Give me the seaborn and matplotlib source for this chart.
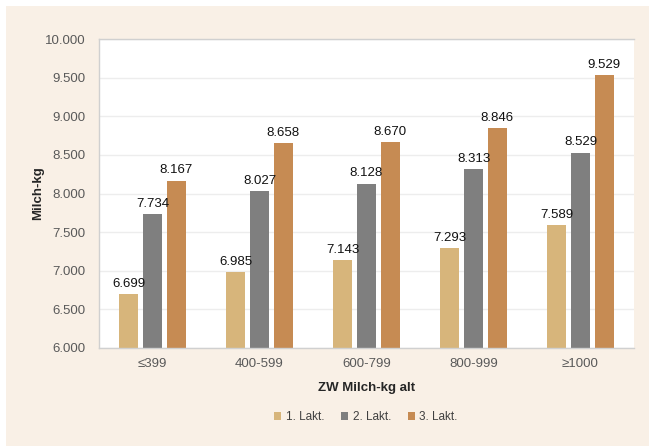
import matplotlib
matplotlib.use("Agg")
import matplotlib.pyplot as plt
import matplotlib.patches as mpatches
from matplotlib.ticker import FuncFormatter
import seaborn as sns
import pandas as pd

# Data
categories = ["≤399", "400-599", "600-799", "800-999", "≥1000"]
series_names = ["1. Lakt.", "2. Lakt.", "3. Lakt."]
lakt1 = [6699, 6985, 7143, 7293, 7589]
lakt2 = [7734, 8027, 8128, 8313, 8529]
lakt3 = [8167, 8658, 8670, 8846, 9529]
y_ticks = [6000, 6500, 7000, 7500, 8000, 8500, 9000, 9500, 10000]

colors = ["#D7B57B", "#7F7F7F", "#C68B53"]
cream = "#F9F0E6"

df = pd.DataFrame({
    "ZW": categories * 3,
    "Lakt": [series_names[0]] * 5 + [series_names[1]] * 5 + [series_names[2]] * 5,
    "Milch": lakt1 + lakt2 + lakt3,
})

sns.set_theme(style="white")
plt.rcParams["font.family"] = ["Liberation Sans", "DejaVu Sans"]

fig = plt.figure(figsize=(6.49, 4.46), dpi=100, facecolor="white")
# cream panel behind the chart
fig.patches.append(mpatches.Rectangle((6 / 649, 0), 1 - 6 / 649, (446 - 6) / 446,
                                      transform=fig.transFigure, facecolor=cream,
                                      edgecolor="none", zorder=-10))

ax = fig.add_axes([99 / 649, (446 - 348) / 446, (634 - 99) / 649, (348 - 39) / 446])
ax.set_facecolor("white")

sns.barplot(data=df, x="ZW", y="Milch", hue="Lakt", order=categories,
            hue_order=series_names, palette=colors, width=0.66, gap=0.19,
            saturation=1, ax=ax, legend=False, edgecolor="none")

def de_fmt(v):
    return f"{int(round(v)):,}".replace(",", ".")

for cont, vals in zip(ax.containers, [lakt1, lakt2, lakt3]):
    ax.bar_label(cont, labels=[de_fmt(v) for v in vals], padding=3,
                 fontsize=9.5, color="#111111")

ax.set_ylim(6000, 10000)
ax.set_yticks(y_ticks)
ax.yaxis.set_major_formatter(FuncFormatter(lambda v, p: de_fmt(v)))
ax.tick_params(axis="y", labelsize=9.5, labelcolor="#595959", length=0, pad=10)
ax.tick_params(axis="x", labelsize=9.5, labelcolor="#595959", length=0, pad=7)
ax.grid(axis="y", color="#EDEDED", linewidth=1)
ax.set_axisbelow(True)

for side in ["left", "top", "bottom"]:
    ax.spines[side].set_color("#D0D0D0")
    ax.spines[side].set_linewidth(1)
ax.spines["right"].set_visible(False)

ax.set_xlabel("ZW Milch-kg alt", fontsize=9.5, fontweight="bold", color="#262626", labelpad=9)
ax.set_ylabel("Milch-kg", fontsize=9.5, fontweight="bold", color="#262626", labelpad=0)

handles = [mpatches.Patch(facecolor=c, edgecolor="none", label=n)
           for c, n in zip(colors, series_names)]
fig.legend(handles=handles, loc="center", bbox_to_anchor=(366 / 649, (446 - 417) / 446),
           ncol=3, frameon=False, fontsize=8.5, handlelength=0.6, handleheight=0.6,
           handletextpad=0.4, columnspacing=1.4, labelcolor="#404040")

fig.savefig("out.png", dpi=100, facecolor=fig.get_facecolor())
